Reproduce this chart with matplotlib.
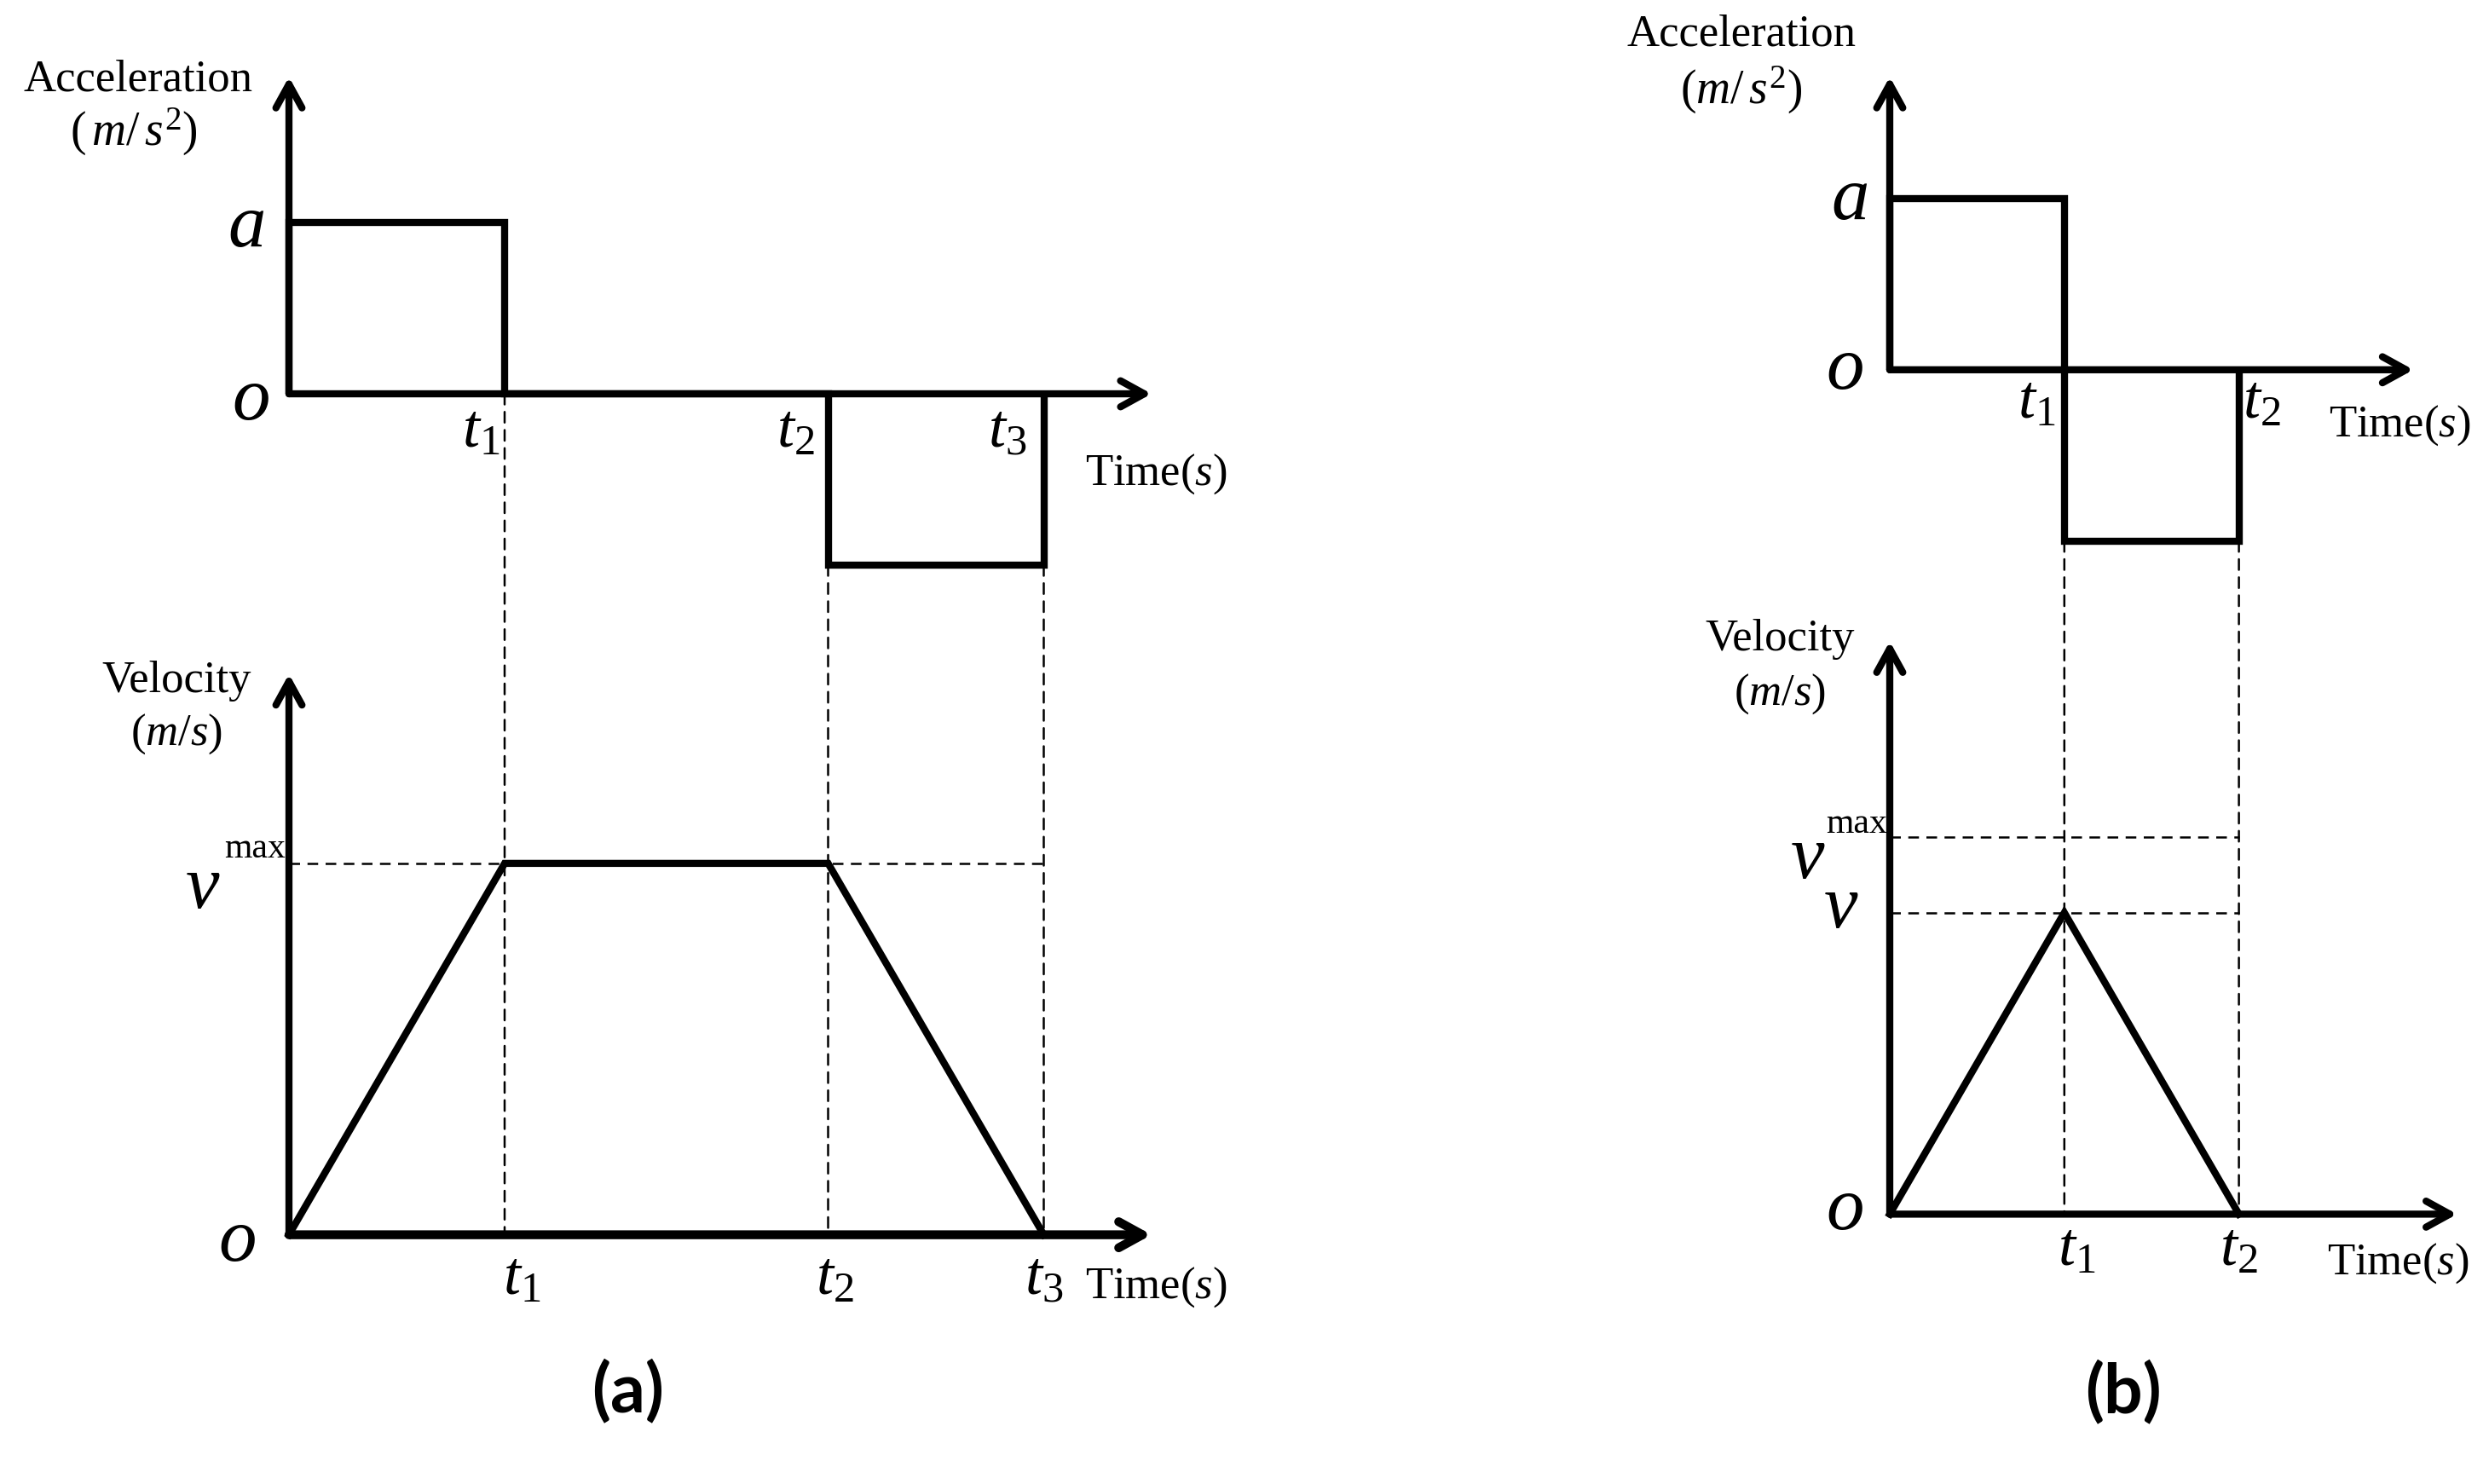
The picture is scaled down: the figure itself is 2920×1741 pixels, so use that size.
import matplotlib
matplotlib.use("Agg")
import matplotlib.pyplot as plt
from matplotlib.patches import ConnectionPatch

plt.rcParams['font.family'] = ['Liberation Serif', 'DejaVu Serif']
plt.rcParams['mathtext.fontset'] = 'custom'
plt.rcParams['mathtext.rm'] = 'Liberation Serif'
plt.rcParams['mathtext.it'] = 'Liberation Serif:italic'

# (a) trapezoidal profile: switching times t0..t3, accel per segment, velocity at switching times
times_a = [0, 1.0, 2.5, 3.5]
acc_a = [1, 0, -1]
vel_a = [0, 1, 1, 0]
tlabels_a = ['$t_1$', '$t_2$', '$t_3$']

# (b) triangular profile
times_b = [0, 1.0, 2.0]
acc_b = [1, -1]
vel_b = [0, 1, 0]
vmax_b = 1.25
tlabels_b = ['$t_1$', '$t_2$']

W, H = 2920, 1741
fig = plt.figure(figsize=(W / 100, H / 100), dpi=100)


def panel(ox, oy, sx, sy, xlim, ylim):
    ax = fig.add_axes([(ox + xlim[0] * sx) / W, (H - oy + ylim[0] * sy) / H,
                       (xlim[1] - xlim[0]) * sx / W, (ylim[1] - ylim[0]) * sy / H])
    ax.set_xlim(*xlim)
    ax.set_ylim(*ylim)
    ax.axis('off')
    ax.patch.set_alpha(0)
    return ax


def axis_arrow(ax, tip, lw=6):
    ax.annotate('', xy=tip, xytext=(0, 0), annotation_clip=False,
                arrowprops=dict(arrowstyle='->,head_length=1.0,head_width=0.55',
                                lw=lw, color='k', shrinkA=0, shrinkB=0,
                                mutation_scale=20))


DASH = (0, (5, 3.5))
DLW = 1.8
LW = 6


def vdash(ax_top, ax_bot, t, y_top):
    con = ConnectionPatch(xyA=(t, y_top), coordsA=ax_top.transData,
                          xyB=(t, 0), coordsB=ax_bot.transData,
                          linestyle=DASH, lw=DLW, color='k')
    fig.add_artist(con)


LBL = 38
BIG = 64
TSZ = 52
SUP = 30

# ---------------- (a) acceleration ----------------
ax1 = panel(339, 462, 253, 201, (-1.4, 4.6), (-1.3, 2.0))
axis_arrow(ax1, (0, 1.85))
axis_arrow(ax1, (4.0, 0))
ax1.stairs(acc_a, times_a, baseline=0, color='k', lw=LW)
ax1.text(-0.70, 1.77, 'Acceleration', fontsize=LBL, ha='center', va='baseline')
ax1.text(-0.72, 1.45, r'$(\,m/\,s^2)$', fontsize=LBL + 2, ha='center', va='baseline')
ax1.text(-0.2, 0.86, '$a$', fontsize=BIG, ha='center', va='baseline')
ax1.text(-0.18, -0.15, '$o$', fontsize=BIG, ha='center', va='baseline')
for t, lab, dx in zip(times_a[1:], tlabels_a, [-0.11, -0.15, -0.17]):
    ax1.text(t + dx, -0.31, lab, fontsize=TSZ, ha='center', va='baseline')
ax1.text(4.02, -0.53, 'Time$(s)$', fontsize=LBL, ha='center', va='baseline')

# ---------------- (a) velocity ----------------
ax2 = panel(339, 1448.6, 253, 435.7, (-1.4, 4.6), (-0.6, 1.6))
axis_arrow(ax2, (0, 1.51))
axis_arrow(ax2, (4.0, 0), lw=7.5)
ax2.plot(times_a, vel_a, color='k', lw=LW, solid_joinstyle='miter')
ax2.plot([0, times_a[3]], [vel_a[1], vel_a[1]], color='k', lw=DLW, ls=DASH)
ax2.text(-0.52, 1.46, 'Velocity', fontsize=LBL, ha='center', va='baseline')
ax2.text(-0.52, 1.32, '$(m/s)$', fontsize=LBL, ha='center', va='baseline')
ax2.text(-0.40, 0.88, '$v$', fontsize=BIG, ha='center', va='baseline')
ax2.text(-0.015, vel_a[1] + 0.015, 'max', fontsize=SUP, ha='right', va='baseline')
ax2.text(-0.24, -0.07, '$o$', fontsize=BIG, ha='center', va='baseline')
for t, lab, dx in zip(times_a[1:], tlabels_a, [0.08, 0.03, 0.0]):
    ax2.text(t + dx, -0.16, lab, fontsize=TSZ, ha='center', va='baseline')
ax2.text(4.02, -0.17, 'Time$(s)$', fontsize=LBL, ha='center', va='baseline')
ax2.text(1.57, -0.48, '(a)', fontsize=58, fontweight='bold', family='Lato',
         ha='center', va='baseline')

vdash(ax1, ax2, times_a[1], 0)
vdash(ax1, ax2, times_a[2], acc_a[2])
vdash(ax1, ax2, times_a[3], acc_a[2])

# ---------------- (b) acceleration ----------------
ax3 = panel(2217, 433.8, 204.8, 201, (-1.5, 3.4), (-1.3, 2.1))
axis_arrow(ax3, (0, 1.71))
axis_arrow(ax3, (3.0, 0))
ax3.stairs(acc_b, times_b, baseline=0, color='k', lw=LW)
ax3.text(-0.85, 1.89, 'Acceleration', fontsize=LBL, ha='center', va='baseline')
ax3.text(-0.85, 1.55, r'$(m/\,s^2)$', fontsize=LBL + 2, ha='center', va='baseline')
ax3.text(-0.23, 0.88, '$a$', fontsize=BIG, ha='center', va='baseline')
ax3.text(-0.26, -0.11, '$o$', fontsize=BIG, ha='center', va='baseline')
for t, lab, dx in zip(times_b[1:], tlabels_b, [-0.16, 0.13]):
    ax3.text(t + dx, -0.28, lab, fontsize=TSZ, ha='center', va='baseline')
ax3.text(2.92, -0.39, 'Time$(s)$', fontsize=LBL, ha='center', va='baseline')

# ---------------- (b) velocity ----------------
ax4 = panel(2217, 1424.4, 204.8, 353.7, (-1.5, 3.4), (-0.8, 2.0))
axis_arrow(ax4, (0, 1.9))
axis_arrow(ax4, (3.25, 0))
ax4.plot(times_b, vel_b, color='k', lw=LW, solid_joinstyle='miter')
ax4.plot([0, times_b[2]], [vmax_b, vmax_b], color='k', lw=DLW, ls=DASH)
ax4.plot([0, times_b[2]], [vel_b[1], vel_b[1]], color='k', lw=DLW, ls=DASH)
ax4.text(-0.63, 1.87, 'Velocity', fontsize=LBL, ha='center', va='baseline')
ax4.text(-0.63, 1.69, '$(m/s)$', fontsize=LBL, ha='center', va='baseline')
ax4.text(-0.47, 1.115, '$v$', fontsize=BIG, ha='center', va='baseline')
ax4.text(-0.015, vmax_b + 0.015, 'max', fontsize=SUP, ha='right', va='baseline')
ax4.text(-0.28, 0.95, '$v$', fontsize=BIG, ha='center', va='baseline')
ax4.text(-0.26, -0.05, '$o$', fontsize=BIG, ha='center', va='baseline')
for t, lab, dx in zip(times_b[1:], tlabels_b, [0.07, 0.0]):
    ax4.text(t + dx, -0.17, lab, fontsize=TSZ, ha='center', va='baseline')
ax4.text(2.91, -0.2, 'Time$(s)$', fontsize=LBL, ha='center', va='baseline')
ax4.text(1.34, -0.66, '(b)', fontsize=58, fontweight='bold', family='Lato',
         ha='center', va='baseline')

vdash(ax3, ax4, times_b[1], acc_b[1])
vdash(ax3, ax4, times_b[2], acc_b[1])

fig.savefig('out.png', dpi=100)
